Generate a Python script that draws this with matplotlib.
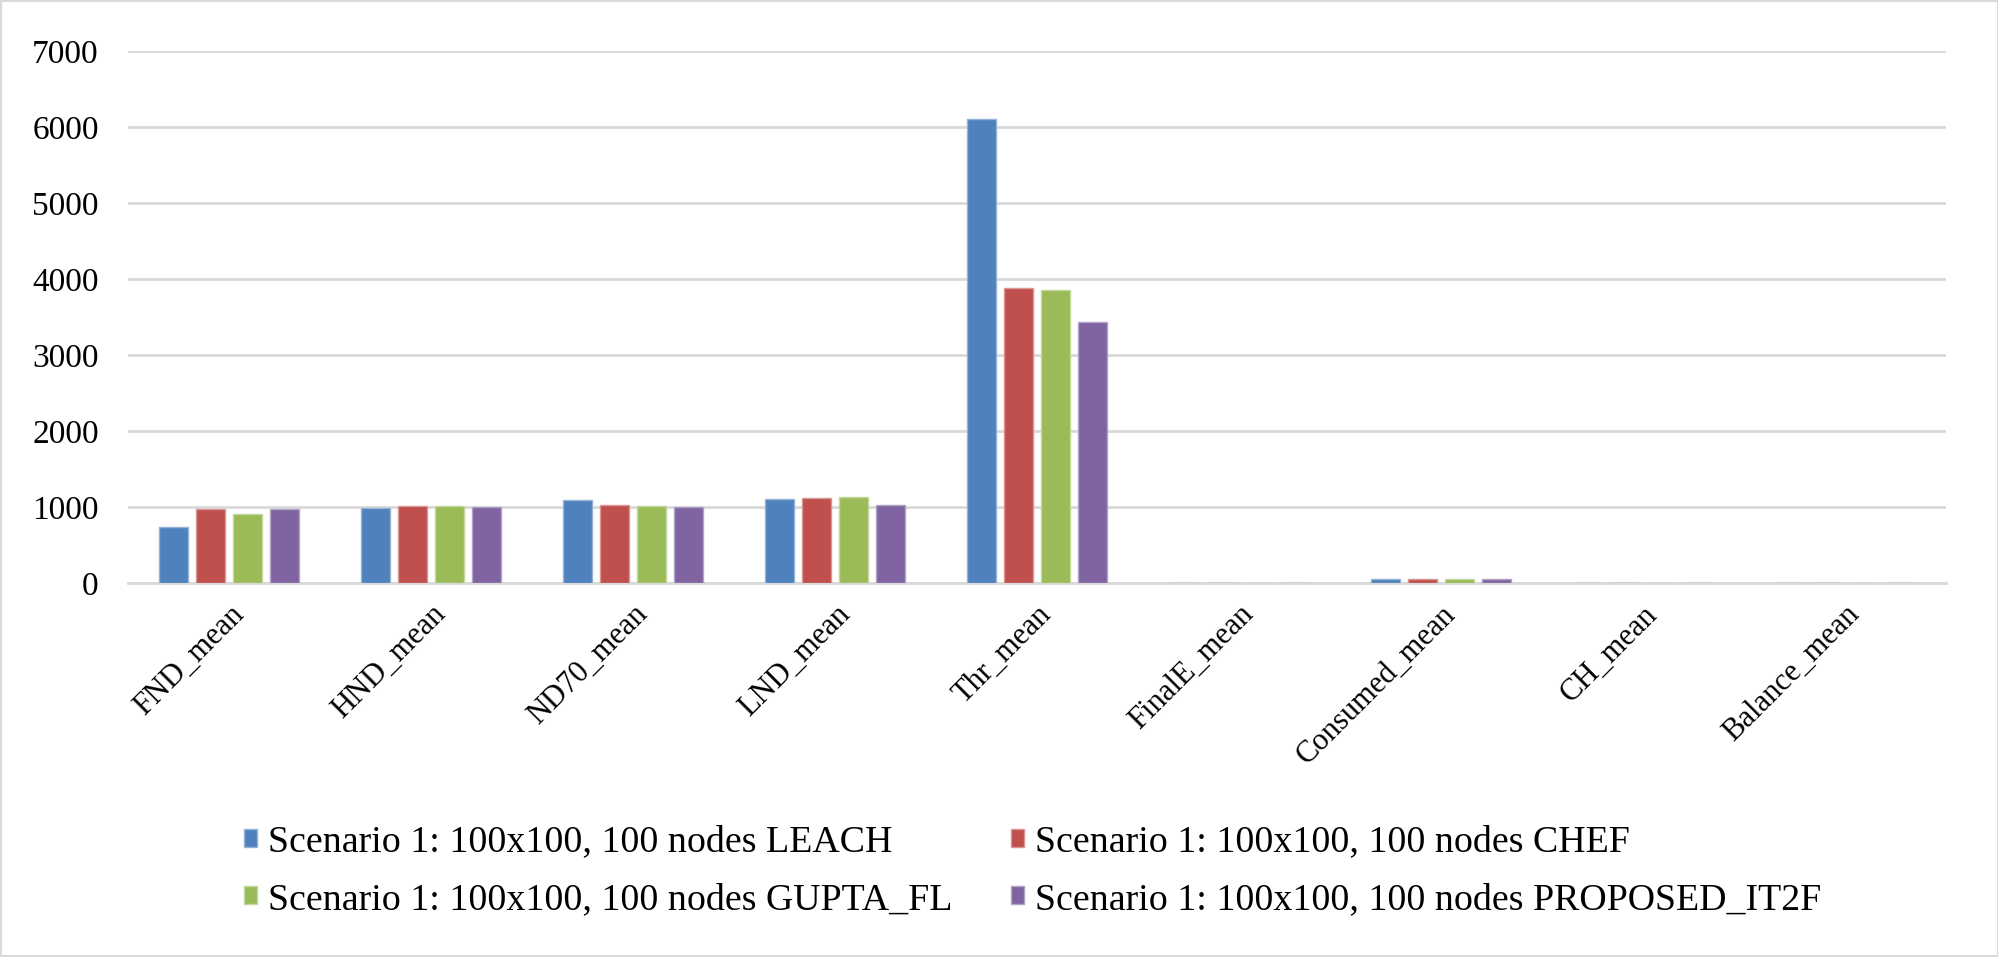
import matplotlib
matplotlib.use("Agg")
import matplotlib.pyplot as plt
import numpy as np
from matplotlib.patches import Rectangle

categories = ["FND_mean", "HND_mean", "ND70_mean", "LND_mean", "Thr_mean",
              "FinalE_mean", "Consumed_mean", "CH_mean", "Balance_mean"]
series_names = ["Scenario 1: 100x100, 100 nodes LEACH",
                "Scenario 1: 100x100, 100 nodes CHEF",
                "Scenario 1: 100x100, 100 nodes GUPTA_FL",
                "Scenario 1: 100x100, 100 nodes PROPOSED_IT2F"]
leach    = [740, 987, 1089, 1102, 6101, 0.05, 50, 5, 0.3]
chef     = [978, 1013, 1027, 1116, 3877, 0.05, 49, 5, 0.3]
gupta_fl = [912, 1013, 1013, 1129, 3855, 0.05, 49, 5, 0.3]
proposed = [978, 1000, 1000, 1022, 3439, 0.05, 48, 5, 0.3]
yticks = [0, 1000, 2000, 3000, 4000, 5000, 6000, 7000]

colors = ["#4F81BD", "#C0504D", "#9BBB59", "#8064A2"]
edges = ["#95B3D7", "#D99694", "#C3D69B", "#B3A2C7"]

plt.rcParams['font.family'] = ['Liberation Serif', 'DejaVu Serif']

fig = plt.figure(figsize=(19.99, 9.57), dpi=100)
fig.patches.append(Rectangle((0, 0), 1, 1, transform=fig.transFigure,
                             fill=False, edgecolor="#D9D9D9", linewidth=3, zorder=10))
ax = fig.add_axes([128/1999, 1-583/957, (1946-128)/1999, (583-51)/957])

x = np.arange(len(categories))
bw = 0.1436
step = 0.183
data = [leach, chef, gupta_fl, proposed]
for i, (vals, c, e, name) in enumerate(zip(data, colors, edges, series_names)):
    ax.bar(x + (i - 1.5) * step, vals, width=bw, color=c, edgecolor=e,
           linewidth=1, label=name, zorder=3)

ax.set_xlim(-0.5, len(categories) - 0.5)
ax.set_ylim(0, 7000)
ax.set_yticks(yticks)
ax.set_yticklabels([str(v) for v in yticks], fontsize=24)
ax.yaxis.grid(True, color="#D9D9D9", linewidth=2, zorder=0)
ax.set_axisbelow(True)
for s in ["top", "right", "left"]:
    ax.spines[s].set_visible(False)
ax.spines["bottom"].set_color("#D9D9D9")
ax.spines["bottom"].set_linewidth(2)
ax.tick_params(axis="both", length=0)
ax.tick_params(axis="y", pad=21)
ax.set_xticks(x)
ax.set_xticklabels(categories, rotation=45, ha="right", rotation_mode="anchor", fontsize=22)
ax.tick_params(axis="x", pad=12)

handles, labels = ax.get_legend_handles_labels()
order = [0, 2, 1, 3]
leg = fig.legend([handles[k] for k in order], [labels[k] for k in order],
                 loc="upper left", bbox_to_anchor=(244/1999, 1-825/957),
                 ncol=2, frameon=False, fontsize=27.3, handlelength=0.34, handleheight=0.34,
                 handletextpad=0.3, columnspacing=1.54, labelspacing=0.6, borderaxespad=0,
                 borderpad=0)

fig.savefig("out.png", dpi=100, facecolor="white")
